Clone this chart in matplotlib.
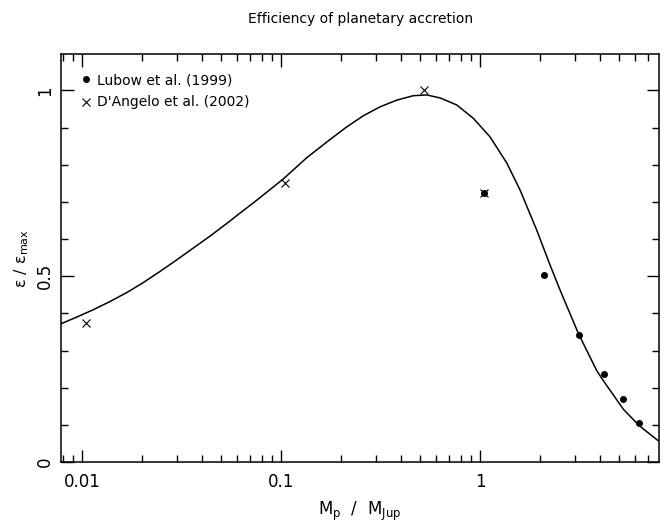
import matplotlib
matplotlib.use("Agg")
import matplotlib.pyplot as plt
from matplotlib.ticker import FixedLocator, FixedFormatter, LogLocator, MultipleLocator

plt.rcParams['font.family'] = ['DejaVu Sans']
plt.rcParams['mathtext.default'] = 'regular'

# fitted efficiency curve
curve_m = [0.00775, 0.0094, 0.0114, 0.01382, 0.01677, 0.02032, 0.02466, 0.0299,
           0.03625, 0.04396, 0.05333, 0.0622, 0.074, 0.1027, 0.1346, 0.1762,
           0.2138, 0.2592, 0.3144, 0.3814, 0.4623, 0.5398, 0.6295, 0.7637,
           0.9254, 1.1227, 1.362, 1.589, 1.927, 2.249, 2.523, 3.12, 3.857,
           4.2, 5.25, 6.3, 7.87]
curve_eff = [0.371, 0.390, 0.410, 0.432, 0.456, 0.483, 0.513, 0.544,
             0.576, 0.608, 0.642, 0.670, 0.701, 0.762, 0.819, 0.868,
             0.902, 0.932, 0.956, 0.974, 0.986, 0.988, 0.980, 0.961,
             0.925, 0.875, 0.805, 0.732, 0.624, 0.530, 0.463, 0.346, 0.246,
             0.216, 0.142, 0.098, 0.057]

# Lubow et al. (1999)
lubow_m = [1.05, 2.1, 3.15, 4.2, 5.25, 6.3]
lubow_eff = [0.725, 0.504, 0.342, 0.236, 0.169, 0.106]

# D'Angelo et al. (2002)
dangelo_m = [0.0105, 0.105, 0.525, 1.05]
dangelo_eff = [0.373, 0.75, 1.0, 0.725]

xtick_vals = [0.01, 0.1, 1]
xtick_labels = ['0.01', '0.1', '1']
ytick_vals = [0, 0.5, 1]
ytick_labels = ['0', '0.5', '1']

fig = plt.figure(figsize=(6.67, 5.25), dpi=100)
ax = fig.add_axes([0.0915, 0.12, 0.8965, 0.777])

ax.plot(curve_m, curve_eff, color='black', lw=1.1)
ax.plot(lubow_m, lubow_eff, 'o', color='black', ms=4, ls='none',
        label='Lubow et al. (1999)')
ax.plot(dangelo_m, dangelo_eff, 'x', color='black', ms=6, mew=0.8, ls='none',
        label="D'Angelo et al. (2002)")

ax.set_xscale('log')
ax.set_xlim(0.00784, 7.93)
ax.set_ylim(0, 1.098)

ax.xaxis.set_major_locator(FixedLocator(xtick_vals))
ax.xaxis.set_major_formatter(FixedFormatter(xtick_labels))
ax.xaxis.set_minor_locator(LogLocator(base=10, subs=range(2, 10)))
ax.xaxis.set_minor_formatter(FixedFormatter([]))
ax.yaxis.set_major_locator(FixedLocator(ytick_vals))
ax.yaxis.set_major_formatter(FixedFormatter(ytick_labels))
ax.yaxis.set_minor_locator(MultipleLocator(0.1))

ax.tick_params(which='both', direction='in', top=True, right=True, width=1)
ax.tick_params(which='major', length=9, labelsize=12)
ax.tick_params(which='minor', length=5)
ax.tick_params(axis='x', which='major', pad=8)
ax.tick_params(axis='y', which='major', pad=5)
for lab in ax.get_yticklabels():
    lab.set_rotation(90)
    lab.set_va('center')
for s in ax.spines.values():
    s.set_linewidth(1.1)

ax.set_xlabel('M$_p$  /  M$_{Jup}$', fontsize=12, labelpad=6)
ax.set_ylabel(r'$\varepsilon$ / $\varepsilon_{max}$', fontsize=11.5, labelpad=4)
fig.text(0.54, 0.978, 'Efficiency of planetary accretion', fontsize=10,
         ha='center', va='top')

ax.legend(loc='upper left', bbox_to_anchor=(0.025, 0.967), borderaxespad=0,
          frameon=False, fontsize=10, handlelength=0.6, handletextpad=0.5,
          labelspacing=0.6)

fig.savefig('out.png', dpi=100)
